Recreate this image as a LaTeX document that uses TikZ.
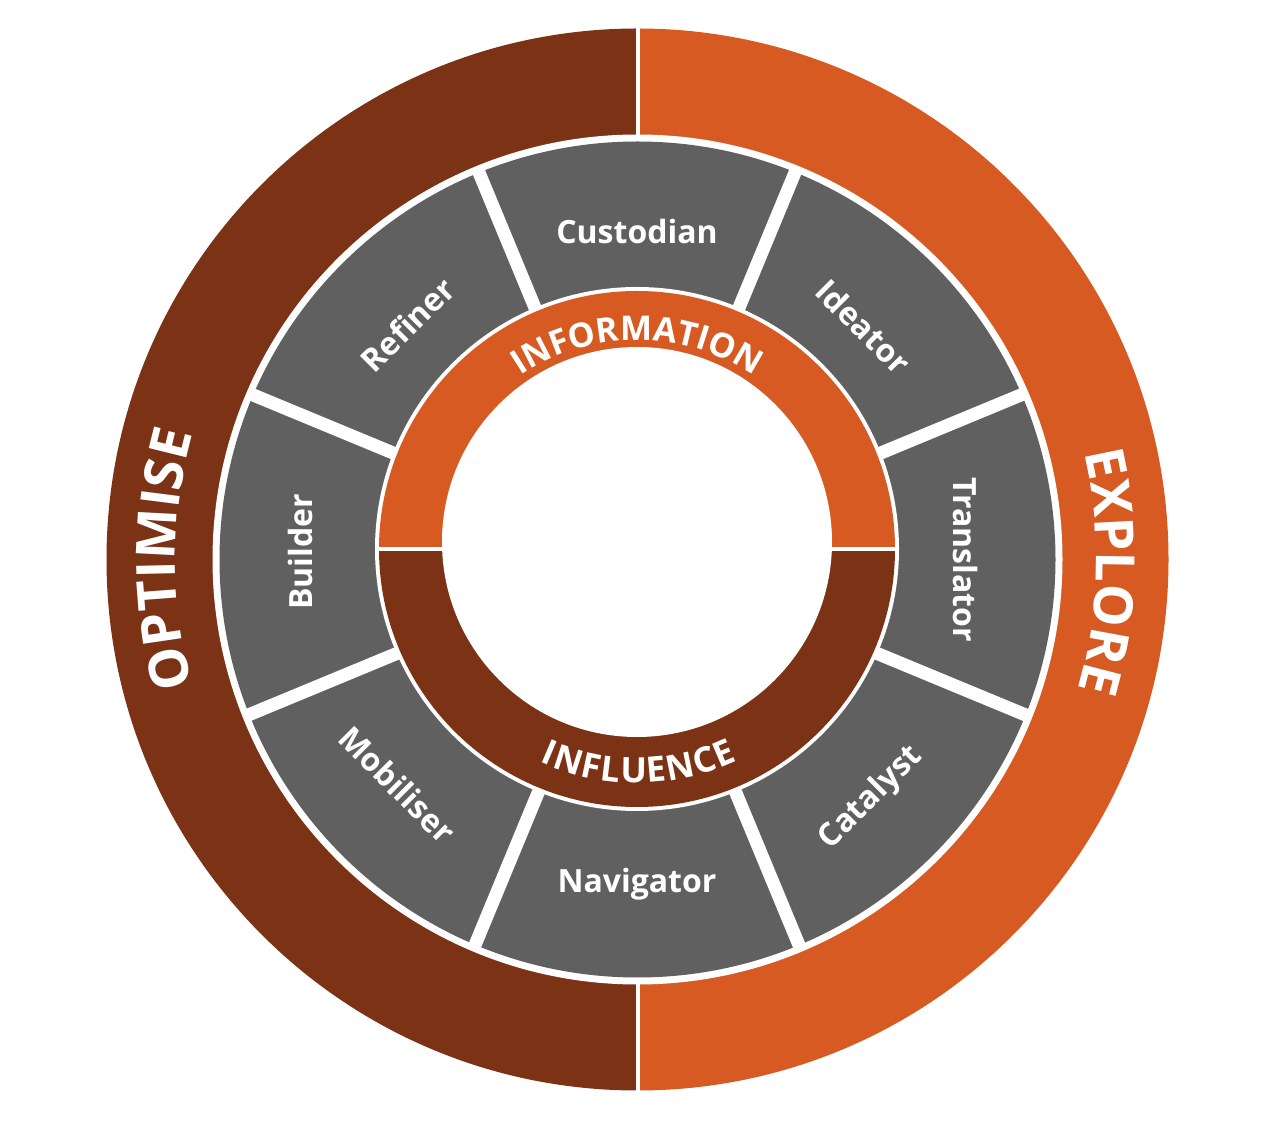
\documentclass[tikz,border=0pt]{standalone}
\usepackage{fontspec}
\setmainfont{Open Sans}
\usetikzlibrary{decorations.text}
\definecolor{ringbrown}{HTML}{7B3215}
\definecolor{ringorange}{HTML}{D65A22}
\definecolor{seggray}{HTML}{606060}
\begin{document}
\begin{tikzpicture}[x=1pt,y=1pt,
  seglabel/.style={text=white, font=\bfseries\fontsize{32}{36}\selectfont, text height=22.8pt, text depth=0pt, inner sep=0pt},
  divline/.style={white, line width=13pt},
  sepline/.style={white, line width=4pt}]
\useasboundingbox (0,0) rectangle (1280,1120);
\fill[white] (0,0) rectangle (1280,1120);
\coordinate (C1) at (637.5,560.5);
\coordinate (C2) at (637,571);
\coordinate (C3) at (637,566);
\coordinate (C4) at (637,578);
% outer ring
\fill[ringbrown] (C1) ++(90:531) arc[start angle=90, end angle=270, radius=531] -- cycle;
\fill[ringorange] (C1) ++(-90:531) arc[start angle=-90, end angle=90, radius=531] -- cycle;
\draw[sepline] (C1) ++(0,-535) -- ++(0,1070);
\fill[white] (C1) circle[radius=425];
% gray segments
\fill[seggray] (C1) circle[radius=418];
\begin{scope}
  \clip (C1) circle[radius=424];
  \foreach \a in {22.5,67.5,112.5,157.5}
    \draw[divline] (C3) ++(\a:440) -- ++({\a+180}:880);
\end{scope}
\fill[white] (C2) circle[radius=262];
% inner ring
\fill[ringorange] (C2) ++(0:258) arc[start angle=0, end angle=180, radius=258] -- cycle;
\fill[ringbrown] (C2) ++(180:258) arc[start angle=180, end angle=360, radius=258] -- cycle;
\draw[sepline] (C2) ++(-262,0) -- ++(524,0);
\fill[white] (C4) circle[radius=195];
% segment labels
\node[seglabel] (custodian) at (637,888) {Custodian};
\node[seglabel, rotate=-45] (ideator) at (863,793) {Ideator};
\node[seglabel, rotate=-90] (translator) at (965,560) {Translator};
\node[seglabel, rotate=45] (catalyst) at (869,324) {Catalyst};
\node[seglabel] (navigator) at (637,239) {Navigator};
\node[seglabel, rotate=-45] (mobiliser) at (397,335) {Mobiliser};
\node[seglabel, rotate=90] (builder) at (301,568) {Builder};
\node[seglabel, rotate=45] (refiner) at (408,795) {Refiner};
% curved texts
\path[decorate, decoration={text along path, text align=center,
  text={|\color{white}\bfseries\fontsize{54}{58}\selectfont|OPTIMISE}}]
  (C1) ++(200:462) arc[start angle=200, end angle=160, radius=462];
\path[decorate, decoration={text along path, text align=center,
  text={|\color{white}\bfseries\fontsize{54}{58}\selectfont|EXPLORE}}]
  (C1) ++(18.5:459) arc[start angle=18.5, end angle=-21.5, radius=459];
\path[decorate, decoration={text along path, text align=fit to path,
  text={|\color{white}\bfseries\fontsize{34}{38}\selectfont|INFORMATION}}]
  (C2) ++(124:209) arc[start angle=124, end angle=56, radius=209];
\path[decorate, decoration={text along path, text align=fit to path,
  text={|\color{white}\bfseries\fontsize{35}{38}\selectfont|INFLUENCE}}]
  (C2) ++(245.5:234) arc[start angle=245.5, end angle=295.5, radius=234];
\end{tikzpicture}
\end{document}
